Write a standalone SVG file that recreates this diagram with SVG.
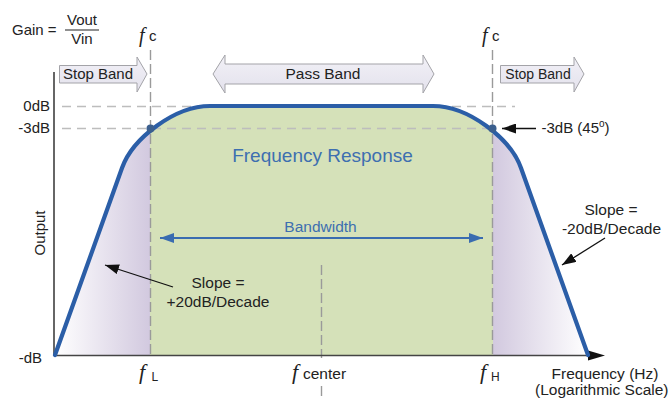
<svg xmlns="http://www.w3.org/2000/svg" width="671" height="399" viewBox="0 0 671 399">
<style>
text{font-family:"Liberation Sans",Arial,sans-serif;fill:#222}
.lbl{font-size:15px}
.fi{font-family:"Liberation Serif","Times New Roman",serif;font-style:italic}
.blue{fill:#3d6fb0}
.hd{stroke:#bdbdbd;stroke-width:1.4;stroke-dasharray:9 6;fill:none}
.vd{stroke:#9a9a9a;stroke-width:1.4;stroke-dasharray:10 4;fill:none}
.band{fill:url(#bandFill);stroke:#a3a3a8;stroke-width:1}
.ann{stroke:#111;stroke-width:1.3;fill:none}
</style>
<defs>
<linearGradient id="area" gradientUnits="userSpaceOnUse" x1="55" y1="0" x2="588" y2="0">
<stop offset="0" stop-color="#ffffff"/>
<stop offset="0.178" stop-color="#d2c9df"/>
<stop offset="0.178" stop-color="#d5e1b9"/>
<stop offset="0.822" stop-color="#d5e1b9"/>
<stop offset="0.822" stop-color="#d2c9df"/>
<stop offset="1" stop-color="#ffffff"/>
</linearGradient>
<linearGradient id="bandFill" x1="0" y1="0" x2="0" y2="1">
<stop offset="0" stop-color="#f2f1f7"/>
<stop offset="1" stop-color="#e3e1ec"/>
</linearGradient>
<marker id="ah" viewBox="0 0 14 10" refX="14" refY="5" markerWidth="14" markerHeight="10" markerUnits="userSpaceOnUse" orient="auto-start-reverse">
<path d="M0,0 L14,5 L0,10 z" fill="#111"/>
</marker>
<marker id="ahb" viewBox="0 0 14 10" refX="14" refY="5" markerWidth="14" markerHeight="10" markerUnits="userSpaceOnUse" orient="auto-start-reverse">
<path d="M0,0 L14,5 L0,10 z" fill="#3a6cb0"/>
</marker>
</defs>

<g id="response-area">
<path d="M55,355 L122,168 C132.7,138 175,106 210,106 L433,106 C468,106 510.3,138 521,168 L588,355 Z" fill="url(#area)"/>
</g>

<g id="guides">
<line class="hd" x1="62" y1="106.5" x2="515" y2="106.5"/>
<line class="hd" x1="62" y1="128.5" x2="492" y2="128.5"/>
<line class="vd" x1="150.5" y1="50" x2="150.5" y2="355"/>
<line class="vd" x1="492.5" y1="50" x2="492.5" y2="355"/>
<line class="vd" x1="321.5" y1="265" x2="321.5" y2="358" stroke-dasharray="8 5"/>
<line class="vd" x1="321.5" y1="386" x2="321.5" y2="399" stroke-dasharray="8 5"/>
</g>

<g id="axes">
<line x1="54" y1="72" x2="54" y2="356" stroke="#333" stroke-width="1.5"/>
<line x1="54" y1="355.5" x2="592" y2="355.5" stroke="#444" stroke-width="1.5"/>
<path d="M588,350.5 L605,355.5 L588,360.5 z" fill="#111"/>
</g>

<g id="curve">
<path d="M55,355 L122,168 C132.7,138 175,106 210,106 L433,106 C468,106 510.3,138 521,168 L588,355" fill="none" stroke="#2b5ea7" stroke-width="4.2" stroke-linejoin="round" stroke-linecap="round"/>
<circle cx="150.5" cy="128.5" r="4" fill="#3b5f8e"/>
<circle cx="492.5" cy="128.5" r="4" fill="#3b5f8e"/>
</g>

<g id="stop-band-left">
<path class="band" d="M59.5,65.5 H137 V57 L147,74 L137,92 V83 H59.5 Z"/>
<text class="lbl" x="98" y="79" text-anchor="middle" font-size="14">Stop Band</text>
</g>
<g id="pass-band">
<path class="band" d="M213,74 L225,55 V64 H423 V55 L434,74 L423,93 V84 H225 V93 Z"/>
<text x="323" y="79" text-anchor="middle" font-size="15.5">Pass Band</text>
</g>
<g id="stop-band-right">
<path class="band" d="M500.5,65.5 H574 V57 L584,74 L574,92 V83 H500.5 Z"/>
<text x="538" y="79" text-anchor="middle" font-size="14">Stop Band</text>
</g>

<g id="gain-label">
<text class="lbl" x="12" y="35">Gain =</text>
<text class="lbl" x="82" y="25" text-anchor="middle">Vout</text>
<line x1="65" y1="30" x2="99" y2="30" stroke="#222" stroke-width="1.2"/>
<text class="lbl" x="82" y="43.5" text-anchor="middle">Vin</text>
</g>

<g id="fc-labels">
<text class="fi" x="139" y="42" font-size="20">f</text>
<text x="149" y="40.5" font-size="15">c</text>
<text class="fi" x="482" y="42" font-size="20">f</text>
<text x="492" y="40.5" font-size="15">c</text>
</g>

<g id="y-labels">
<text class="lbl" x="50" y="111" text-anchor="end">0dB</text>
<text class="lbl" x="50" y="133" text-anchor="end">-3dB</text>
<text class="lbl" x="42" y="363" text-anchor="end">-dB</text>
<text class="lbl" transform="translate(45,233) rotate(-90)" text-anchor="middle">Output</text>
</g>

<g id="x-labels">
<text class="fi" x="139" y="379" font-size="22">f</text>
<text x="151.5" y="380.5" font-size="12">L</text>
<text class="fi" x="292" y="379" font-size="22">f</text>
<text x="303" y="378.5" font-size="15.5">center</text>
<text class="fi" x="480" y="379" font-size="22">f</text>
<text x="491" y="380.5" font-size="12">H</text>
<text x="605" y="378.5" text-anchor="middle" font-size="15.5">Frequency (Hz)</text>
<text x="535" y="395" font-size="15.5">(Logarithmic Scale)</text>
</g>

<g id="titles">
<text class="blue" x="322.5" y="161.5" text-anchor="middle" font-size="19">Frequency Response</text>
<text class="blue" x="320.5" y="231.5" text-anchor="middle" font-size="15.5">Bandwidth</text>
</g>

<g id="annotations">
<text x="218" y="288" text-anchor="middle" font-size="15.5">Slope =</text>
<text x="218" y="307" text-anchor="middle" font-size="15.5">+20dB/Decade</text>
<text x="611" y="215" text-anchor="middle" font-size="15.5">Slope =</text>
<text x="611.5" y="233.5" text-anchor="middle" font-size="15.5">-20dB/Decade</text>
<text x="541.5" y="133" font-size="15">-3dB (45<tspan font-size="10" dy="-6">o</tspan><tspan dy="6">)</tspan></text>
</g>

<g id="connectors">
<line class="ann" x1="173" y1="287" x2="105" y2="265" marker-end="url(#ah)"/>
<line class="ann" x1="605" y1="238" x2="562" y2="265" marker-end="url(#ah)"/>
<line class="ann" x1="536" y1="128.5" x2="502" y2="128.5" marker-end="url(#ah)"/>
<line x1="160" y1="238" x2="483" y2="238" stroke="#3a6cb0" stroke-width="2" marker-start="url(#ahb)" marker-end="url(#ahb)"/>
</g>
</svg>
